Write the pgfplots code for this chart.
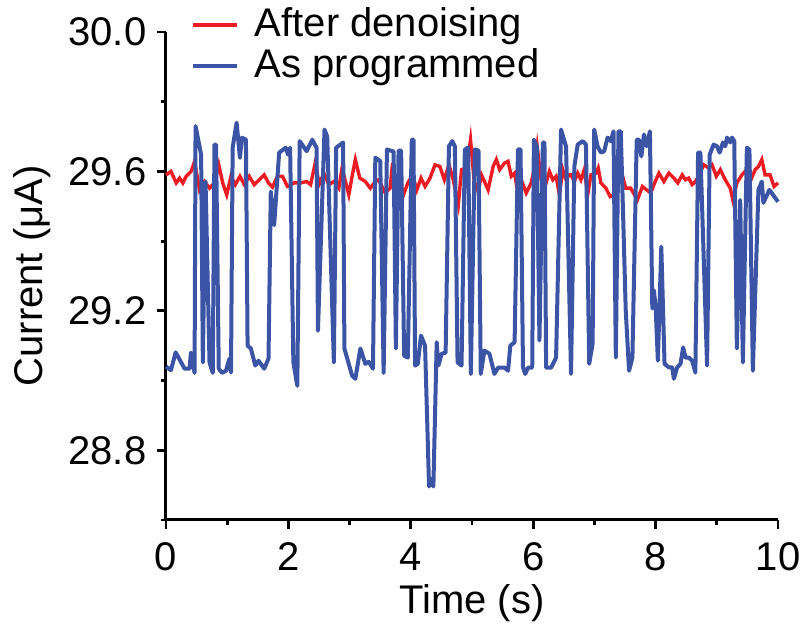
\documentclass[border=0pt]{standalone}
\usepackage{fontspec}
\setmainfont{Liberation Sans}
\usepackage{pgfplots}
\pgfplotsset{compat=1.18}
\usetikzlibrary{calc}
\definecolor{myred}{RGB}{237,28,36}
\definecolor{myblue}{RGB}{59,84,166}
\begin{document}
\fontsize{20}{24}\selectfont
\begin{tikzpicture}
\begin{axis}[name=ax,
  width=306pt, height=244pt, scale only axis,
  xmin=0, xmax=10, ymin=28.6, ymax=30.0,
  axis x line*=bottom, axis y line*=left,
  axis line style={line width=1.5pt, black},
  tick align=outside,
  xtick={0,2,...,10}, minor xtick={1,3,...,9},
  ytick={28.8,29.2,29.6,30.0}, minor ytick={28.6,29.0,29.4,29.8},
  major tick length=4.5pt, minor tick length=2.5pt,
  every tick/.style={black, line width=1.4pt},
  yticklabel style={/pgf/number format/.cd, fixed, fixed zerofill, precision=1, /tikz/.cd, xshift=1.5pt},
  /pgf/number format/assume math mode=true,
  tick label style={font=\fontsize{20}{24}\selectfont},
  label style={font=\fontsize{20}{24}\selectfont},
  xlabel={Time (s)}, ylabel={Current (μA)},
  every axis x label/.style={at={(axis description cs:0.5,0)}, anchor=base, yshift=-46.75pt},
  every axis y label/.style={at={(axis description cs:0,0.5)}, anchor=base, rotate=90, yshift=61.5pt},
  legend style={draw=none, fill=none, inner sep=0pt, at={(axis description cs:0.040,1.059)}, anchor=north west, font=\fontsize{20}{24}\selectfont, row sep=-1pt},
  legend cell align=left,
  legend image code/.code={\draw[#1] (0pt,0pt) -- (22pt,0pt); \path (28pt,0pt);},
  clip=false,
]
\addplot[myred, line width=1.7pt] coordinates {
(0,29.59)(0.081,29.600)(0.167,29.567)(0.223,29.581)(0.276,29.567)(0.330,29.586)(0.411,29.600)(0.467,29.629)(0.548,29.547)(0.629,29.571)(0.711,29.552)(0.792,29.567)(0.862,29.619)(0.927,29.567)(0.992,29.533)(1.062,29.586)(1.133,29.562)(1.208,29.586)(1.280,29.562)(1.361,29.586)(1.442,29.562)(1.524,29.576)(1.605,29.590)(1.675,29.567)(1.740,29.555)(1.821,29.586)(1.902,29.586)(1.984,29.557)(2.093,29.567)(2.200,29.567)(2.298,29.571)(2.363,29.562)(2.444,29.629)(2.499,29.562)(2.580,29.595)(2.662,29.562)(2.743,29.571)(2.824,29.552)(2.878,29.610)(2.932,29.571)(2.987,29.533)(3.041,29.586)(3.094,29.634)(3.166,29.581)(3.257,29.571)(3.338,29.552)(3.420,29.571)(3.475,29.576)(3.582,29.538)(3.663,29.552)(3.702,29.624)(3.735,29.509)(3.800,29.586)(3.881,29.533)(3.951,29.567)(4.028,29.590)(4.098,29.547)(4.167,29.581)(4.233,29.557)(4.314,29.581)(4.395,29.619)(4.476,29.614)(4.548,29.576)(4.623,29.619)(4.694,29.576)(4.776,29.504)(4.829,29.605)(4.911,29.610)(4.976,29.691)(5.036,29.571)(5.101,29.542)(5.154,29.590)(5.263,29.547)(5.345,29.614)(5.398,29.634)(5.452,29.605)(5.533,29.624)(5.589,29.629)(5.642,29.586)(5.696,29.595)(5.740,29.547)(5.805,29.576)(5.886,29.538)(5.967,29.567)(6.021,29.610)(6.065,29.672)(6.130,29.576)(6.211,29.567)(6.265,29.600)(6.320,29.576)(6.374,29.586)(6.428,29.533)(6.483,29.605)(6.537,29.576)(6.590,29.590)(6.618,29.590)(6.672,29.571)(6.727,29.595)(6.780,29.576)(6.834,29.605)(6.889,29.533)(6.943,29.590)(7.024,29.595)(7.062,29.610)(7.106,29.567)(7.187,29.552)(7.257,29.528)(7.322,29.533)(7.377,29.547)(7.431,29.605)(7.512,29.552)(7.593,29.552)(7.702,29.518)(7.784,29.557)(7.854,29.547)(7.919,29.538)(7.984,29.567)(8.054,29.595)(8.135,29.571)(8.216,29.595)(8.298,29.581)(8.363,29.567)(8.434,29.590)(8.488,29.576)(8.541,29.581)(8.597,29.562)(8.650,29.571)(8.704,29.586)(8.785,29.619)(8.867,29.610)(8.922,29.619)(8.992,29.586)(9.057,29.605)(9.138,29.576)(9.220,29.552)(9.263,29.518)(9.328,29.567)(9.410,29.590)(9.463,29.600)(9.545,29.571)(9.626,29.605)(9.680,29.614)(9.735,29.634)(9.789,29.590)(9.870,29.590)(9.935,29.557)(10.0,29.567)
};
\addlegendentry{After denoising}
\addplot[myblue, line width=2pt, line join=round] coordinates {
(0,29.04)(0.081,29.03)(0.158,29.081)(0.304,29.034)(0.385,29.034)(0.407,29.080)(0.467,29.022)(0.483,29.730)(0.574,29.648)(0.602,29.052)(0.646,29.571)(0.711,29.052)(0.764,29.022)(0.792,29.677)(0.818,29.677)(0.862,29.034)(0.915,29.022)(0.980,29.028)(1.036,29.063)(1.062,29.023)(1.089,29.668)(1.154,29.740)(1.208,29.639)(1.241,29.697)(1.306,29.691)(1.333,29.100)(1.387,29.092)(1.459,29.043)(1.512,29.057)(1.605,29.034)(1.675,29.063)(1.712,29.542)(1.767,29.446)(1.849,29.654)(1.956,29.668)(1.995,29.648)(2.028,29.668)(2.081,29.052)(2.146,28.985)(2.184,29.687)(2.298,29.658)(2.390,29.691)(2.460,29.668)(2.483,29.143)(2.590,29.720)(2.634,29.700)(2.743,29.052)(2.780,29.668)(2.894,29.683)(2.915,29.092)(3.041,29.014)(3.094,29.005)(3.176,29.092)(3.257,29.048)(3.312,29.054)(3.382,29.034)(3.420,29.639)(3.501,29.630)(3.556,29.022)(3.610,29.663)(3.719,29.657)(3.756,29.092)(3.800,29.660)(3.842,29.660)(3.891,29.071)(3.951,29.066)(4.016,29.691)(4.044,29.691)(4.070,29.043)(4.114,29.048)(4.167,29.129)(4.233,29.100)(4.298,28.696)(4.330,28.717)(4.369,28.696)(4.423,29.110)(4.450,29.043)(4.504,29.077)(4.569,29.080)(4.623,29.672)(4.678,29.687)(4.720,29.672)(4.764,29.052)(4.829,29.043)(4.883,29.663)(4.938,29.668)(4.981,29.019)(5.046,29.663)(5.106,29.660)(5.143,29.019)(5.203,29.086)(5.285,29.077)(5.366,29.019)(5.426,29.037)(5.533,29.037)(5.589,29.028)(5.626,29.100)(5.696,29.110)(5.751,29.663)(5.793,29.663)(5.833,29.038)(5.870,29.019)(5.914,29.037)(5.984,29.037)(6.011,29.691)(6.060,29.672)(6.102,29.115)(6.158,29.683)(6.184,29.683)(6.211,29.037)(6.293,29.037)(6.374,29.066)(6.455,29.720)(6.537,29.671)(6.618,29.019)(6.672,29.614)(6.727,29.677)(6.808,29.687)(6.862,29.677)(6.915,29.048)(6.971,29.106)(6.997,29.720)(7.052,29.672)(7.106,29.654)(7.159,29.658)(7.215,29.697)(7.268,29.687)(7.312,29.715)(7.350,29.066)(7.393,29.715)(7.431,29.715)(7.512,29.201)(7.566,29.028)(7.621,29.066)(7.691,29.691)(7.728,29.691)(7.767,29.643)(7.810,29.706)(7.854,29.672)(7.907,29.715)(7.946,29.207)(7.972,29.259)(8.000,29.211)(8.037,29.057)(8.093,29.384)(8.146,29.048)(8.216,29.038)(8.271,29.038)(8.298,29.005)(8.353,29.038)(8.407,29.048)(8.450,29.095)(8.488,29.066)(8.541,29.066)(8.597,29.057)(8.650,29.023)(8.694,29.654)(8.732,29.654)(8.841,29.043)(8.883,29.648)(8.948,29.677)(9.003,29.672)(9.046,29.654)(9.101,29.683)(9.138,29.672)(9.166,29.697)(9.220,29.683)(9.247,29.697)(9.285,29.687)(9.328,29.092)(9.382,29.518)(9.426,29.052)(9.491,29.668)(9.533,29.663)(9.589,29.028)(9.680,29.547)(9.735,29.571)(9.761,29.510)(9.859,29.547)(10.0,29.513)
};
\addlegendentry{As programmed}
\end{axis}
\pgfresetboundingbox
\path[use as bounding box] ($(ax.south west)+(-83pt,-54.25pt)$) rectangle ($(ax.north east)+(11.5pt,16pt)$);
\end{tikzpicture}
\end{document}
